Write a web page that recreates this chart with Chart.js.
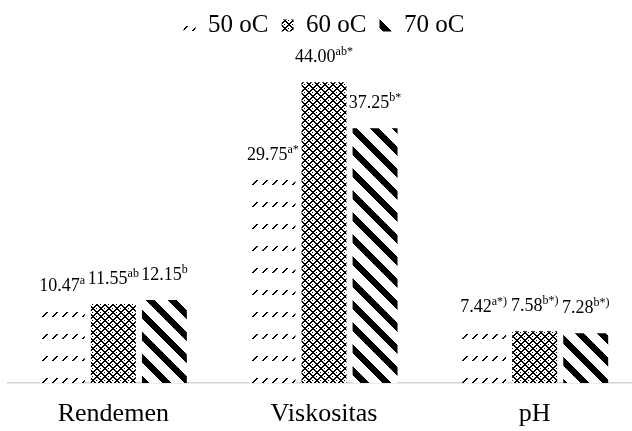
<!DOCTYPE html>
<html lang="id">
<head>
  <meta charset="UTF-8">
  <title>Rendemen, Viskositas, pH</title>
  <script src="https://cdn.jsdelivr.net/npm/chart.js"></script>
  <style>
    html, body { margin: 0; padding: 0; background: #fff; overflow: hidden; }
    /* kanvas sedikit lebih lebar dari jendela supaya jarak kategori pas */
    #wrap { width: 640px; height: 431px; }
  </style>
</head>
<body>
  <div id="wrap"><canvas id="chart"></canvas></div>

  <script>
    // data
    const categories = ['Rendemen', 'Viskositas', 'pH'];
    const seriesNames = ['50 oC', '60 oC', '70 oC'];
    const vals50 = [10.47, 29.75, 7.42];
    const vals60 = [11.55, 44.00, 7.58];
    const vals70 = [12.15, 37.25, 7.28];
    // huruf notasi (superscript) di atas batang
    const sup50 = ['a', 'a*', 'a*)'];
    const sup60 = ['ab', 'ab*', 'b*)'];
    const sup70 = ['b', 'b*', 'b*)'];

    const FONT = "'Liberation Serif', 'Times New Roman', serif";

    // pola isian hitam-putih dibuat per piksel
    function makePattern(w, h, isBlack) {
      const c = document.createElement('canvas');
      c.width = w; c.height = h;
      const g = c.getContext('2d');
      const img = g.createImageData(w, h);
      for (let y = 0; y < h; y++) {
        for (let x = 0; x < w; x++) {
          const i = (y * w + x) * 4;
          const v = isBlack(x, y) ? 0 : 255;
          img.data[i] = v; img.data[i + 1] = v; img.data[i + 2] = v; img.data[i + 3] = 255;
        }
      }
      g.putImageData(img, 0, 0);
      return g.createPattern(c, 'repeat');
    }

    // 50 oC : garis putus-putus miring kecil
    const dashPixels = new Set();
    for (let k = 0; k < 5; k++) {
      dashPixels.add((2 + k) + ',' + (8 - k));
      dashPixels.add((3 + k) + ',' + (8 - k));
    }
    const pat50 = makePattern(10, 22, (x, y) => dashPixels.has(x + ',' + y));
    // 60 oC : kotak-kotak belah ketupat
    const pat60 = makePattern(8, 8, (x, y) => ((x + y) % 8) < 2 || ((x - y + 8) % 8) < 2 || (x % 4 === 0 && y % 4 === 0));
    // 70 oC : garis tebal miring ke kanan bawah
    const pat70 = makePattern(22, 22, (x, y) => ((x - y + 22) % 22) < 9);

    const valueLabels = {
      id: 'valueLabels',
      afterDatasetsDraw(chart) {
        const ctx = chart.ctx;
        ctx.save();
        ctx.fillStyle = '#000';
        ctx.textBaseline = 'alphabetic';
        chart.data.datasets.forEach((ds, di) => {
          const meta = chart.getDatasetMeta(di);
          meta.data.forEach((bar, i) => {
            const main = ds.data[i].toFixed(2);
            const sup = ds.sups[i];
            ctx.font = '18px ' + FONT;
            const w1 = ctx.measureText(main).width;
            ctx.font = '12px ' + FONT;
            const w2 = ctx.measureText(sup).width;
            const x0 = bar.x - (w1 + w2) / 2;
            const y0 = bar.y - 20;
            ctx.font = '18px ' + FONT;
            ctx.textAlign = 'left';
            ctx.fillText(main, x0, y0);
            ctx.font = '12px ' + FONT;
            ctx.fillText(sup, x0 + w1, y0 - 7);
          });
        });
        ctx.restore();
      }
    };

    const data = {
      labels: categories,
      datasets: [
        { label: seriesNames[0], data: vals50, sups: sup50, backgroundColor: pat50 },
        { label: seriesNames[1], data: vals60, sups: sup60, backgroundColor: pat60 },
        { label: seriesNames[2], data: vals70, sups: sup70, backgroundColor: pat70 }
      ]
    };

    new Chart(document.getElementById('chart'), {
      type: 'bar',
      data: data,
      plugins: [valueLabels],
      options: {
        responsive: true,
        maintainAspectRatio: false,
        animation: false,
        layout: { padding: { left: 8, right: 0, top: 0, bottom: 0 } },
        datasets: {
          bar: { categoryPercentage: 0.727, barPercentage: 0.88, borderWidth: 0 }
        },
        plugins: {
          legend: {
            position: 'top',
            labels: {
              font: { family: FONT, size: 25 },
              color: '#000',
              boxWidth: 12,
              boxHeight: 12,
              padding: 13
            }
          },
          tooltip: { enabled: false }
        },
        scales: {
          x: {
            grid: { display: false, drawTicks: false },
            border: { display: true, color: '#d4d4d4', width: 1.5 },
            ticks: { font: { family: FONT, size: 26 }, color: '#000', padding: 16 },
            afterFit(scale) { scale.height = 48; }
          },
          y: {
            display: false,
            min: 0,
            max: 49
          }
        }
      }
    });
  </script>
</body>
</html>
